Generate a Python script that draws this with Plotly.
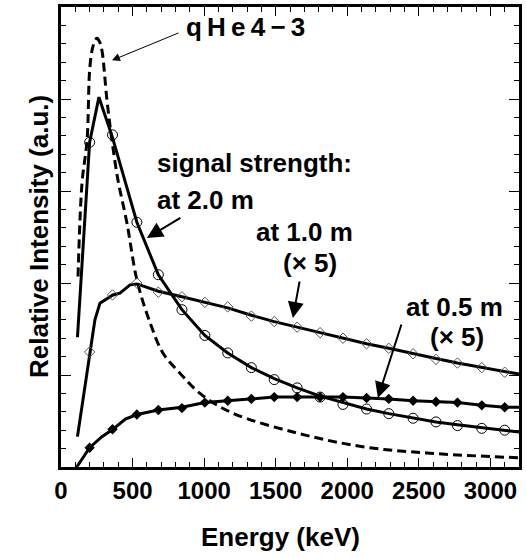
import plotly.graph_objects as go

# ---- data ----
marker_energy = [200, 360, 530, 680, 845, 1005, 1165, 1330, 1490, 1650,
                 1810, 1970, 2135, 2290, 2460, 2620, 2770, 2940, 3100]

# 2.0 m (open circles)
m20_markers = [3.53, 3.61, 2.66, 2.09, 1.71, 1.43, 1.24, 1.08, 0.95, 0.86,
               0.76, 0.68, 0.63, 0.58, 0.53, 0.49, 0.45, 0.42, 0.40]
m20_line_x = [115, 200, 265, 360, 530, 680, 845, 1005, 1165, 1330, 1490, 1650,
              1810, 1970, 2135, 2290, 2460, 2620, 2770, 2940, 3100, 3200]
m20_line_y = [1.41, 3.53, 4.02, 3.58, 2.66, 2.09, 1.71, 1.43, 1.24, 1.08, 0.96, 0.86,
              0.77, 0.70, 0.63, 0.58, 0.53, 0.49, 0.46, 0.43, 0.40, 0.38]

# 1.0 m x5 (open diamonds)
m10_markers = [1.25, 1.87, 2.00, 1.90, 1.85, 1.79, 1.74, 1.64, 1.58, 1.52,
               1.46, 1.40, 1.34, 1.29, 1.23, 1.17, 1.13, 1.08, 1.03]
m10_line_x = [115, 200, 237, 272, 363, 412, 482, 531, 680, 845, 1005, 1165, 1330,
              1490, 1650, 1810, 1970, 2135, 2290, 2460, 2620, 2770, 2940, 3100, 3200]
m10_line_y = [0.33, 1.25, 1.60, 1.78, 1.87, 1.89, 1.98, 1.99, 1.91, 1.85, 1.79, 1.73, 1.65,
              1.58, 1.52, 1.46, 1.40, 1.34, 1.29, 1.23, 1.18, 1.13, 1.08, 1.04, 1.01]

# 0.5 m x5 (filled diamonds)
m05_markers = [0.21, 0.41, 0.57, 0.62, 0.64, 0.70, 0.72, 0.74, 0.76, 0.76,
               0.76, 0.76, 0.75, 0.74, 0.72, 0.71, 0.70, 0.67, 0.65]
m05_line_x = [110, 200, 286, 363, 450, 531, 680, 845, 1005, 1165, 1330, 1490, 1650,
              1810, 1970, 2135, 2290, 2460, 2620, 2770, 2940, 3100, 3200]
m05_line_y = [0.00, 0.21, 0.33, 0.41, 0.52, 0.57, 0.62, 0.65, 0.70, 0.72, 0.74, 0.76, 0.76,
              0.76, 0.76, 0.75, 0.74, 0.72, 0.71, 0.70, 0.67, 0.65, 0.65]

# qHe4-3 (dashed)
qhe_x = [119, 147, 182, 202, 225, 251, 270, 286, 321, 356, 398, 461, 531, 622, 712,
         831, 971, 1194, 1648, 2109, 2577, 3200]
qhe_y = [2.07, 3.09, 3.55, 4.35, 4.58, 4.66, 4.62, 4.53, 3.99, 3.55, 3.12, 2.65, 2.03,
         1.57, 1.24, 1.02, 0.80, 0.59, 0.37, 0.22, 0.15, 0.10]

x_ticks = [0, 500, 1000, 1500, 2000, 2500, 3000]

FONT = "Liberation Sans, Arial, Helvetica, sans-serif"
BLACK = "black"

fig = go.Figure()
fig.add_trace(go.Scatter(x=qhe_x, y=qhe_y, mode="lines", line_shape="spline",
                         line=dict(color=BLACK, width=3, dash="9px,5px"),
                         showlegend=False))
for lx, ly in [(m20_line_x, m20_line_y), (m10_line_x, m10_line_y), (m05_line_x, m05_line_y)]:
    fig.add_trace(go.Scatter(x=lx, y=ly, mode="lines",
                             line=dict(color=BLACK, width=3), showlegend=False))
fig.add_trace(go.Scatter(x=marker_energy, y=m20_markers, mode="markers",
                         marker=dict(symbol="circle-open", size=10, color=BLACK,
                                     line=dict(width=1, color=BLACK)),
                         showlegend=False))
fig.add_trace(go.Scatter(x=marker_energy, y=m10_markers, mode="markers",
                         marker=dict(symbol="diamond-open", size=8, color="#555",
                                     line=dict(width=1, color="#555")),
                         showlegend=False))
fig.add_trace(go.Scatter(x=marker_energy, y=m05_markers, mode="markers",
                         marker=dict(symbol="diamond", size=8, color=BLACK),
                         showlegend=False))

ann = []
def txt(x, y, t, xanchor="center", size=26, xref="x", yref="y", angle=0):
    ann.append(dict(x=x, y=y, xref=xref, yref=yref, text=t, showarrow=False,
                    xanchor=xanchor, yanchor="middle", textangle=angle,
                    font=dict(family=FONT, size=size, color=BLACK, weight="bold")))

def arr(x, y, ax, ay, width=2, size=1.6):
    ann.append(dict(x=x, y=y, xref="x", yref="y", ax=ax, ay=ay, text="",
                    showarrow=True, arrowhead=2, arrowwidth=width, arrowsize=size,
                    arrowcolor=BLACK))

txt(1292, 4.78, "q\u2009H\u2009e\u20094\u2009−\u20093", size=26)
txt(656, 3.30, "signal strength:", xanchor="left")
txt(656, 2.90, "at 2.0 m", xanchor="left")
txt(1704, 2.55, "at 1.0 m")
txt(1739, 2.22, "(× 5)")
txt(2748, 1.74, "at 0.5 m")
txt(2769, 1.41, "(× 5)")

# axis titles
txt(1536, -0.152, "Energy (keV)", yref="paper")
txt(-0.048, 0.5, "Relative Intensity (a.u.)", xref="paper", yref="paper", angle=-90)

arr(356, 4.42, 68, -28, width=1, size=1.6)
arr(600, 2.49, 35, -21)
arr(1620, 1.62, 7, -38)
arr(2214, 0.75, 24, -75)

axis_common = dict(showline=True, linewidth=3, linecolor=BLACK, mirror="ticks",
                   ticks="inside", tickcolor=BLACK, tickwidth=1, showgrid=False,
                   zeroline=False, automargin=False)
fig.update_layout(
    width=526, height=558,
    margin=dict(l=61, r=7, t=7, b=91, autoexpand=False),
    plot_bgcolor="white", paper_bgcolor="white",
    annotations=ann,
    xaxis=dict(range=[0, 3200], tickvals=x_ticks, ticklen=9,
               minor=dict(dtick=100, ticks="inside", ticklen=5, tickcolor=BLACK),
               tickfont=dict(family=FONT, size=24, color=BLACK, weight="bold"),
               **axis_common),
    yaxis=dict(range=[0, 5], dtick=1, ticklen=10, showticklabels=False,
               minor=dict(dtick=0.2, ticks="inside", ticklen=5, tickcolor=BLACK),
               **axis_common),
)
fig.write_html("out.html", config={"displayModeBar": False},
               post_script="document.body.style.margin='0';")
